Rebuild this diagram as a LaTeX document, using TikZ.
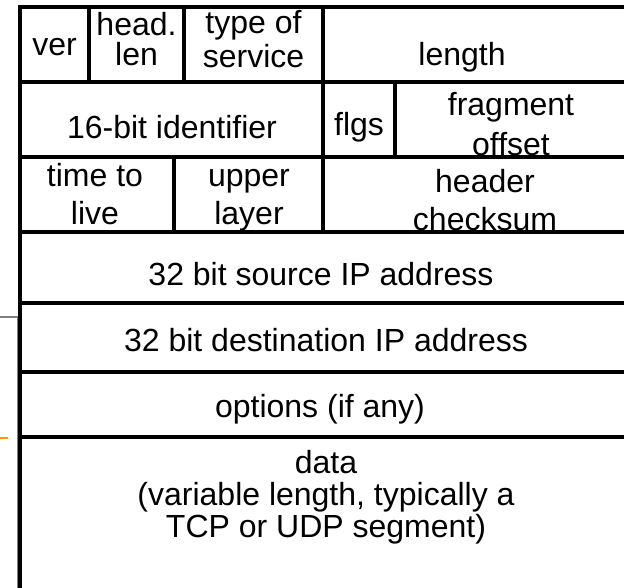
\documentclass[tikz,border=0pt]{standalone}
\usepackage{fontspec}
\setmainfont{Liberation Sans}

\begin{document}
\begin{tikzpicture}[x=1pt,y=-1pt,
        field/.style={anchor=base,align=center,inner sep=0pt,font=\fontsize{32}{#1}\selectfont},
        field/.default=34,
        rule/.style={line width=3.5pt,line cap=rect}]
        \useasboundingbox (0,0) rectangle (624,587);
        % slide leftovers at the left edge
        \draw[gray,line width=2pt] (0,317) -- (17.5,317) -- (17.5,600);
        \draw[orange!80!yellow,line width=1.5pt] (0,438) -- (8,438);
        % frame and row rules
        \draw[rule] (20,7) -- (640,7);
        \foreach \y in {82,157,232,303,372,437} {
            \draw[rule] (20,\y) -- (640,\y);
        }
        \draw[rule] (20,7) -- (20,600);
        % field dividers
        \foreach \x/\ya/\yb in {89/7/82, 184/7/82, 323/7/232, 395/82/157, 174/157/232} {
            \draw[rule] (\x,\ya) -- (\x,\yb);
        }
        % first word (base = last line)
        \node[field] (ver) at (54.5,55) {ver};
        \node[field=30] (hlen) at (136.5,65) {head.\\len};
        \node[field=34] (tos) at (253.5,67) {type of\\service};
        \node[field] (len) at (462,65) {length};
        % second word
        \node[field] (ident) at (172,138) {16-bit identifier};
        \node[field] (flgs) at (359,135) {flgs};
        \node[field=40] (frag) at (511,155) {fragment\\offset};
        % third word
        \node[field=38] (ttl) at (95,224) {time to\\live};
        \node[field=38] (proto) at (249,224) {upper\\layer};
        \node[field=38] (csum) at (485,230) {header\\checksum};
        % addresses, options, payload
        \node[field] (src) at (321,285) {32 bit source IP address};
        \node[field] (dst) at (326,351) {32 bit destination IP address};
        \node[field] (opts) at (320,417) {options (if any)};
        \node[field=32] (data) at (326,537) {data\\(variable length, typically a\\TCP or UDP segment)};
    \end{tikzpicture}
\end{document}
